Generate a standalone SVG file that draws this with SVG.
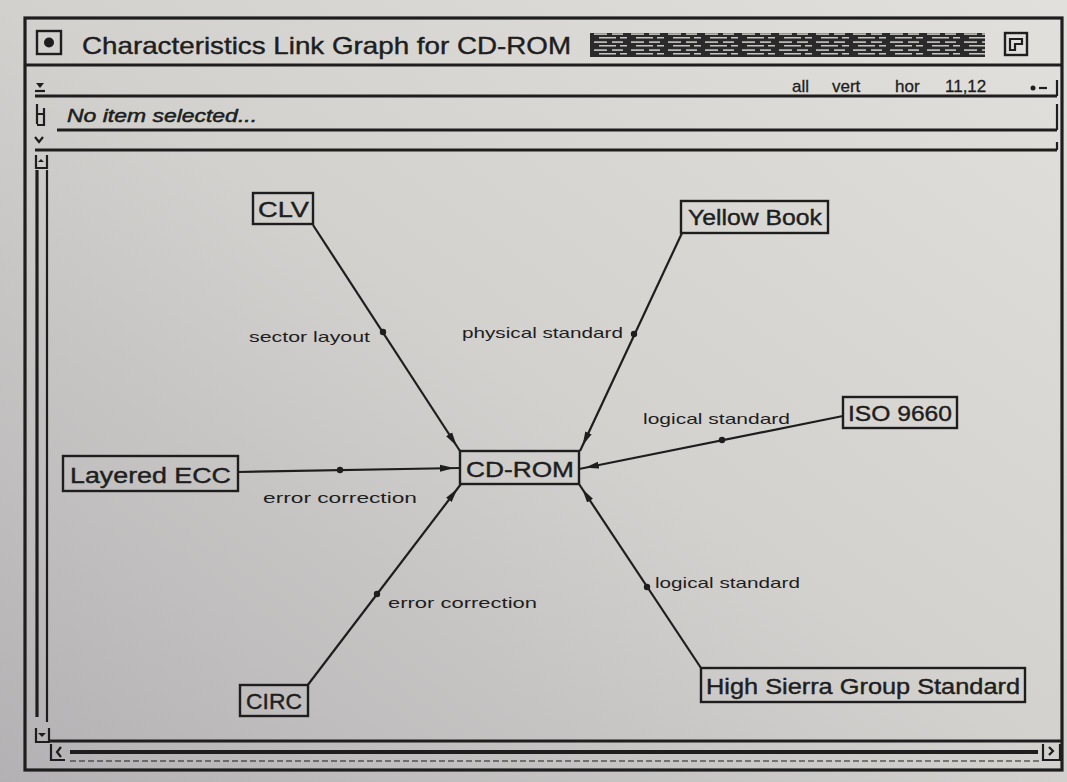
<svg xmlns="http://www.w3.org/2000/svg" width="1067" height="782" viewBox="0 0 1067 782">
  <defs>
    <linearGradient id="paper" x1="1" y1="0" x2="0" y2="1">
      <stop offset="0" stop-color="#e2e0dc"/>
      <stop offset="0.5" stop-color="#d3d1ce"/>
      <stop offset="1" stop-color="#b3b1b3"/>
    </linearGradient>
    <pattern id="streak" width="37" height="8" patternUnits="userSpaceOnUse">
      <rect width="37" height="8" fill="#2a2a2a"/>
      <rect x="2" y="1.3" width="13" height="1.6" fill="#c8c6c2"/>
      <rect x="20" y="1.3" width="11" height="1.6" fill="#c8c6c2"/>
      <rect x="7" y="5" width="17" height="1.5" fill="#c8c6c2"/>
      <rect x="28" y="5" width="7" height="1.5" fill="#c8c6c2"/>
    </pattern>
    <marker id="arr" markerUnits="userSpaceOnUse" markerWidth="16" markerHeight="10" viewBox="0 0 16 10" refX="20" refY="5" orient="auto">
      <path d="M0,1.5 L14,5 L0,8.5 z" fill="#1e1e1e"/>
    </marker>
    <style>
      .ln { stroke: #1e1e1e; stroke-width: 2.2; fill: none; }
      .thick { stroke: #1e1e1e; stroke-width: 3.2; fill: none; }
      .box { fill: none; stroke: #1e1e1e; stroke-width: 2.4; }
      .node { font-family: "Liberation Sans", "DejaVu Sans", sans-serif; font-size: 22px; fill: #1e1e1e; stroke: #1e1e1e; stroke-width: 0.4; }
      .lbl { font-family: "Liberation Sans", "DejaVu Sans", sans-serif; font-size: 15px; fill: #1e1e1e; }
      .ui { font-family: "Liberation Sans", "DejaVu Sans", sans-serif; fill: #1e1e1e; }
      .edge { stroke: #1e1e1e; stroke-width: 2.2; fill: none; marker-end: url(#arr); }
      .dot { fill: #1e1e1e; }
    </style>
  </defs>

  <!-- paper -->
  <rect x="0" y="0" width="1067" height="782" fill="url(#paper)"/>

  <!-- window chrome -->
  <g id="window">
    <rect x="25" y="18" width="1037" height="752" class="thick" stroke-width="3.6"/>
    <!-- title bar -->
    <line x1="25" y1="65" x2="1062" y2="65" class="thick"/>
    <rect x="37" y="31" width="24" height="23" class="box"/>
    <circle cx="49" cy="42.5" r="5" fill="#1e1e1e"/>
    <text x="82" y="54" class="ui" font-size="24" stroke="#1e1e1e" stroke-width="0.4" textLength="489" lengthAdjust="spacingAndGlyphs">Characteristics Link Graph for CD-ROM</text>
    <rect x="590" y="33" width="395" height="24" fill="url(#streak)"/>
    <rect x="1005" y="33" width="22" height="22" class="box"/>
    <path d="M1010,39 h12 v5 h-7 v6 h-5 z" class="ln" stroke-width="1.8"/>
    <!-- row 2 -->
    <path d="M36,83 l4,5 l4,-5 z" fill="#1e1e1e"/>
    <line x1="35" y1="91" x2="45" y2="91" class="ln"/>
    <line x1="35" y1="96" x2="1057" y2="96" class="thick"/>
    <line x1="1057" y1="80" x2="1057" y2="96" class="ln"/>
    <g class="ui" font-size="17" stroke="#1e1e1e" stroke-width="0.3">
      <text x="792" y="92">all</text>
      <text x="832" y="92">vert</text>
      <text x="895" y="92">hor</text>
      <text x="945" y="92">11,12</text>
    </g>
    <circle cx="1033" cy="88" r="2.5" fill="#1e1e1e"/>
    <line x1="1039" y1="88" x2="1047" y2="88" class="ln"/>
    <!-- row 3 -->
    <path d="M37,104 v20 M37,114 h8 M44,108 v17 h-7" class="ln" stroke-width="1.8"/>
    <text x="67" y="122" class="ui" font-size="18" font-style="italic" stroke="#1e1e1e" stroke-width="0.5" textLength="190" lengthAdjust="spacingAndGlyphs">No item selected...</text>
    <line x1="57" y1="130" x2="1057" y2="130" class="thick"/>
    <line x1="1057" y1="104" x2="1057" y2="130" class="ln"/>
    <!-- row 4 -->
    <path d="M35,137 l4,5 l4,-5" class="ln" stroke-width="1.8"/>
    <line x1="35" y1="150" x2="1057" y2="150" class="thick"/>
    <line x1="1057" y1="142" x2="1057" y2="150" class="ln"/>
    <!-- left scrollbar -->
    <path d="M36,155 v13 h11 v-13" class="ln" stroke-width="1.8"/>
    <path d="M38,162 l3,-3 l3,3 z" fill="#1e1e1e"/>
    <line x1="37" y1="170" x2="37" y2="717" class="thick"/>
    <line x1="47" y1="170" x2="47" y2="722" class="ln"/>
    <path d="M36,728 v14 h13 v-14" class="ln" stroke-width="1.8"/>
    <path d="M38,733 l4,4 l4,-4 z" fill="#1e1e1e"/>
    <!-- graph area border -->
    <line x1="50" y1="741" x2="1062" y2="741" class="thick"/>
    <!-- bottom scrollbar -->
    <path d="M51,744 v16 h14" class="ln" stroke-width="1.8"/>
    <path d="M61,747 l-4,5 l4,5" class="ln" stroke-width="1.8"/>
    <line x1="70" y1="752" x2="1038" y2="752" stroke="#1e1e1e" stroke-width="4"/>
    <line x1="70" y1="761" x2="1040" y2="761" stroke="#1e1e1e" stroke-width="1.2" stroke-dasharray="6 3"/>
    <path d="M1043,744 v16 h17 v-16" class="ln" stroke-width="1.8"/>
    <path d="M1049,747 l4,4 l-4,4" class="ln" stroke-width="1.8"/>
  </g>

  <!-- connectors -->
  <g id="connectors">
    <line x1="313" y1="225" x2="460" y2="451" class="edge"/>
    <circle cx="383" cy="332" r="3.2" class="dot"/>
    <text x="370" y="342" class="lbl" text-anchor="end" textLength="121" lengthAdjust="spacingAndGlyphs">sector layout</text>

    <line x1="682" y1="233" x2="580" y2="451" class="edge"/>
    <circle cx="634" cy="334" r="3.2" class="dot"/>
    <text x="623" y="338" class="lbl" text-anchor="end" textLength="161" lengthAdjust="spacingAndGlyphs">physical standard</text>

    <line x1="843" y1="416" x2="579" y2="469" class="edge"/>
    <circle cx="722" cy="440" r="3.2" class="dot"/>
    <text x="643" y="424" class="lbl" textLength="147" lengthAdjust="spacingAndGlyphs">logical standard</text>

    <line x1="238" y1="472" x2="460" y2="468" class="edge"/>
    <circle cx="340" cy="470" r="3.2" class="dot"/>
    <text x="263" y="503" class="lbl" textLength="154" lengthAdjust="spacingAndGlyphs">error correction</text>

    <line x1="307" y1="686" x2="461" y2="484" class="edge"/>
    <circle cx="377" cy="594" r="3.2" class="dot"/>
    <text x="388" y="608" class="lbl" textLength="149" lengthAdjust="spacingAndGlyphs">error correction</text>

    <line x1="701" y1="668" x2="579" y2="484" class="edge"/>
    <circle cx="647" cy="587" r="3.2" class="dot"/>
    <text x="655" y="588" class="lbl" textLength="145" lengthAdjust="spacingAndGlyphs">logical standard</text>
  </g>

  <!-- nodes -->
  <g id="node-clv">
    <rect x="253" y="193" width="60" height="31" class="box"/>
    <text x="258" y="217" class="node" textLength="51" lengthAdjust="spacingAndGlyphs">CLV</text>
  </g>
  <g id="node-yellow-book">
    <rect x="681" y="201" width="147" height="32" class="box"/>
    <text x="688" y="225" class="node" font-size="21" textLength="134" lengthAdjust="spacingAndGlyphs">Yellow Book</text>
  </g>
  <g id="node-iso-9660">
    <rect x="843" y="397" width="114" height="31" class="box"/>
    <text x="848" y="421" class="node" font-size="21" textLength="104" lengthAdjust="spacingAndGlyphs">ISO 9660</text>
  </g>
  <g id="node-cd-rom">
    <rect x="460" y="451" width="119" height="33" class="box"/>
    <text x="466" y="477" class="node" textLength="108" lengthAdjust="spacingAndGlyphs">CD-ROM</text>
  </g>
  <g id="node-layered-ecc">
    <rect x="63" y="456" width="175" height="35" class="box"/>
    <text x="70" y="483" class="node" textLength="161" lengthAdjust="spacingAndGlyphs">Layered ECC</text>
  </g>
  <g id="node-circ">
    <rect x="240" y="685" width="68" height="31" class="box"/>
    <text x="246" y="709" class="node" textLength="56" lengthAdjust="spacingAndGlyphs">CIRC</text>
  </g>
  <g id="node-high-sierra">
    <rect x="701" y="668" width="324" height="34" class="box"/>
    <text x="706" y="694" class="node" font-size="21" textLength="314" lengthAdjust="spacingAndGlyphs">High Sierra Group Standard</text>
  </g>
</svg>
